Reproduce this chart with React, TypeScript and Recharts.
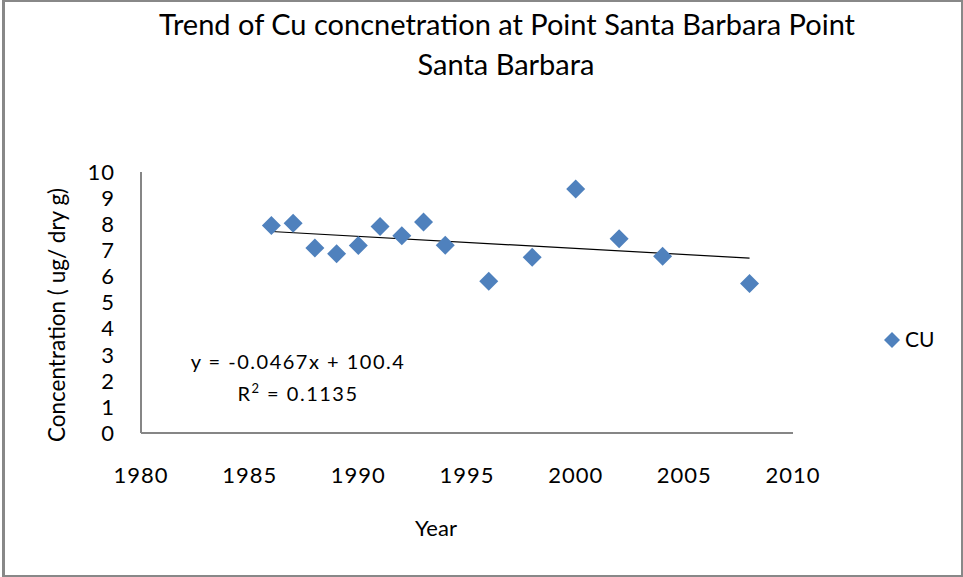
import React from 'react';
import { ScatterChart, Scatter, XAxis, YAxis, Customized } from 'recharts';

const years = [1986, 1987, 1988, 1989, 1990, 1991, 1992, 1993, 1994, 1996, 1998, 2000, 2002, 2004, 2008];
const cuValues = [7.95, 8.04, 7.09, 6.87, 7.18, 7.91, 7.56, 8.08, 7.19, 5.81, 6.73, 9.35, 7.44, 6.77, 5.73];
const trendYears = [1986, 2008];
const trendValues = [7.72, 6.7];
const xTicks = [1980, 1985, 1990, 1995, 2000, 2005, 2010];
const yTicks = [0, 1, 2, 3, 4, 5, 6, 7, 8, 9, 10];

const titleLines = ['Trend of Cu concnetration at Point Santa Barbara Point', 'Santa Barbara'];
const yLabel = 'Concentration ( ug/ dry g)';
const xLabel = 'Year';
const seriesName = 'CU';
const equation = 'y = -0.0467x + 100.4';

const cuData = years.map((y, i) => ({ x: y, y: cuValues[i] }));
const trendData = trendYears.map((y, i) => ({ x: y, y: trendValues[i] }));

const FONT = 'Lato, "Open Sans", sans-serif';
const BLUE = '#4F81BD';
const AXIS = '#868686';

const Diamond = (props: any) => {
  const { cx, cy } = props;
  const r = 9.5;
  return <polygon points={`${cx},${cy - r} ${cx + r},${cy} ${cx},${cy + r} ${cx - r},${cy}`} fill={BLUE} />;
};

const NoShape = () => <g />;

const Overlay = () => (
  <g fontFamily={FONT} fill="#000">
    <text x={507} y={35} fontSize={29} textAnchor="middle">{titleLines[0]}</text>
    <text x={506} y={75} fontSize={29} textAnchor="middle">{titleLines[1]}</text>
    <text x={65} y={315} fontSize={22.5} textAnchor="middle" transform="rotate(-90 65 315)">{yLabel}</text>
    <text x={436} y={536} fontSize={22} textAnchor="middle">{xLabel}</text>
    <text x={298} y={369} fontSize={20} letterSpacing={1.5} textAnchor="middle">{equation}</text>
    <text x={298} y={401} fontSize={20} letterSpacing={1.5} textAnchor="middle">
      R<tspan dy={-8} fontSize={13}>2</tspan><tspan dy={8}> = 0.1135</tspan>
    </text>
    <polygon points="892,332 900,340 892,348 884,340" fill={BLUE} />
    <text x={905} y={347} fontSize={21}>{seriesName}</text>
  </g>
);

const tickStyle = { fill: '#000', fontSize: 22, fontFamily: FONT, letterSpacing: 1 };

export default function App() {
  return (
    <div style={{ position: 'absolute', left: 0, top: 0, width: 963, height: 577, background: '#fff' }}>
      <div
        style={{
          position: 'absolute',
          left: 2,
          top: 0,
          width: 961,
          height: 577,
          boxSizing: 'border-box',
          borderLeft: '3px solid #888',
          borderTop: '2px solid #888',
          borderRight: '2px solid #888',
          borderBottom: '2px solid #888',
        }}
      />
      <div style={{ position: 'absolute', left: 0, top: 0 }}>
        <ScatterChart width={963} height={577} margin={{ top: 172, right: 170, bottom: 84, left: 81 }}>
          <XAxis
            type="number"
            dataKey="x"
            domain={[1980, 2010]}
            ticks={xTicks}
            tickLine={false}
            tickSize={0}
            tickMargin={34}
            height={60}
            axisLine={{ stroke: AXIS, strokeWidth: 2 }}
            tick={tickStyle}
          />
          <YAxis
            type="number"
            dataKey="y"
            domain={[0, 10]}
            ticks={yTicks}
            interval={0}
            tickLine={false}
            tickSize={0}
            tickMargin={26}
            width={60}
            axisLine={{ stroke: AXIS, strokeWidth: 2 }}
            tick={tickStyle}
          />
          <Scatter data={trendData} line={{ stroke: '#000', strokeWidth: 1.2 }} shape={NoShape} isAnimationActive={false} legendType="none" />
          <Scatter name={seriesName} data={cuData} shape={Diamond} fill={BLUE} isAnimationActive={false} />
          <Customized component={Overlay} />
        </ScatterChart>
      </div>
    </div>
  );
}
